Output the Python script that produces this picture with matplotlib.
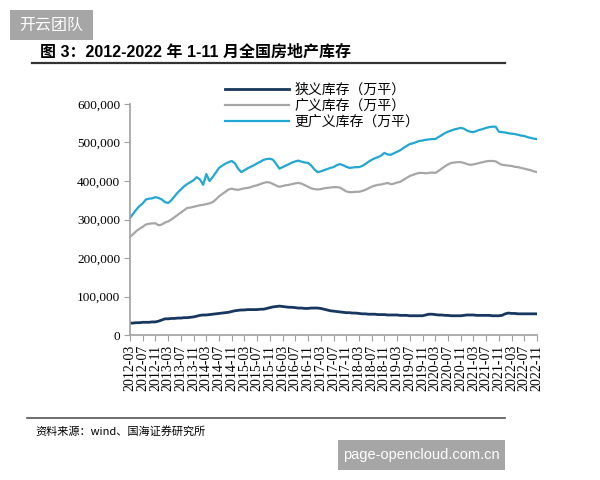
import matplotlib
matplotlib.use("Agg")
import matplotlib.pyplot as plt
from matplotlib.patches import Rectangle
from matplotlib.lines import Line2D
from matplotlib.ticker import FuncFormatter
import pandas as pd

plt.rcParams['font.family'] = ['Liberation Serif', 'Noto Sans CJK SC']

# monthly categories 2012-03 .. 2022-11
months = [str(p) for p in pd.period_range("2012-03", "2022-11", freq="M")]

# 狭义库存 (万平)
narrow = [31, 31, 32, 32, 33, 33, 33, 34, 34, 36, 39, 42,
          42, 43, 43, 44, 44, 45, 45, 46, 47, 49, 51, 52,
          52, 53, 54, 55, 56, 57, 58, 59, 61, 63, 64, 65,
          65, 66, 66, 66, 66, 67, 67, 69, 71, 73, 74, 75,
          74, 73, 72, 72, 71, 70, 70, 69, 69, 70, 70, 70,
          69, 67, 65, 63, 62, 61, 60, 59, 58, 58, 57, 57,
          56, 55, 55, 54, 54, 54, 53, 53, 53, 52, 52, 52,
          52, 51, 51, 51, 50, 50, 50, 50, 50, 52, 54, 54,
          53, 52, 52, 51, 51, 50, 50, 50, 50, 51, 52, 52,
          52, 51, 51, 51, 51, 51, 50, 50, 50, 51, 55, 57,
          56, 56, 55, 55, 55, 55, 55, 55, 55]

# 广义库存 (万平)
broad = [255, 262, 270, 276, 281, 287, 289, 290, 290, 285, 287, 292,
         295, 300, 306, 312, 318, 324, 330, 331, 333, 335, 337, 338,
         340, 342, 345, 352, 360, 366, 372, 378, 380, 378, 377, 379,
         381, 382, 384, 387, 389, 392, 395, 397, 396, 392, 388, 385,
         387, 389, 390, 392, 394, 395, 393, 389, 385, 381, 379, 378,
         379, 381, 382, 383, 384, 384, 383, 378, 373, 371, 371, 372,
         372, 374, 377, 381, 385, 388, 390, 391, 393, 395, 392, 393,
         396, 398, 403, 408, 413, 416, 419, 421, 421, 420, 421, 422,
         421, 426, 432, 438, 443, 447, 448, 449, 449, 447, 444, 442,
         443, 445, 447, 449, 451, 452, 452, 451, 446, 442, 441, 440,
         439, 437, 436, 434, 432, 430, 428, 425, 423]

# 更广义库存 (万平)
broader = [304, 315, 326, 335, 342, 352, 354, 355, 358, 356, 352, 345,
           343, 350, 360, 370, 378, 386, 392, 397, 402, 410, 404, 390,
           418, 400, 410, 422, 434, 440, 445, 449, 452, 446, 432, 423,
           428, 433, 437, 441, 446, 450, 455, 457, 458, 455, 444, 432,
           436, 440, 444, 448, 451, 453, 450, 448, 447, 440, 430, 423,
           425, 428, 431, 434, 436, 441, 444, 441, 437, 434, 435, 436,
           436, 439, 444, 450, 455, 459, 462, 466, 473, 469, 468, 472,
           476, 480, 486, 491, 496, 498, 501, 504, 505, 507, 508, 509,
           509, 514, 519, 524, 528, 531, 534, 536, 538, 536, 531, 528,
           527, 530, 533, 535, 538, 540, 541, 541, 528, 527, 526, 524,
           523, 522, 520, 518, 517, 514, 512, 510, 509]

series_names = ["狭义库存（万平）", "广义库存（万平）", "更广义库存（万平）"]
colors = ["#17375e", "#a6a6a6", "#22a7d2"]
widths = [2.0, 1.6, 1.6]

fig = plt.figure(figsize=(6, 4.8), dpi=100)
ax = fig.add_axes([130 / 600, 1 - 335 / 480, 407 / 600, 231 / 480])

x = list(range(len(months)))
for vals, name, c, w in zip([narrow, broad, broader], series_names, colors, widths):
    ax.plot(x, [v * 1000 for v in vals], color=c, lw=w, label=name)

ax.set_xlim(0, len(months) - 1)
ax.set_ylim(0, 600000)
ax.set_yticks(range(0, 600001, 100000))
ax.yaxis.set_major_formatter(FuncFormatter(lambda v, p: f"{int(v):,}"))
ax.set_xticks(x[::4])
ax.set_xticklabels(months[::4], rotation=90, fontsize=10)
ax.tick_params(axis='y', labelsize=9.5, length=4, color="#a0a0a0", pad=3)
ax.tick_params(axis='x', length=4, color="#a0a0a0", pad=3)
for s in ["top", "right"]:
    ax.spines[s].set_visible(False)
for s in ["left", "bottom"]:
    ax.spines[s].set_color("#a0a0a0")
    ax.spines[s].set_linewidth(1.2)

fig.legend(loc="upper left", bbox_to_anchor=(218 / 600, 1 - 76 / 480),
           frameon=False, handlelength=4.6, borderpad=0, labelspacing=0.15,
           handletextpad=0.4, prop={'family': 'Noto Sans CJK SC', 'size': 10})

# title and rules
fig.text(40 / 600, 1 - 52 / 480, "图 3：2012-2022 年 1-11 月全国房地产库存",
         fontsize=11.5, fontweight="bold", family=["Liberation Sans", "Noto Sans CJK SC"],
         va="center", ha="left")
fig.add_artist(Line2D([32 / 600, 505 / 600], [1 - 63 / 480, 1 - 63 / 480],
                      color="#333333", lw=1.6))
fig.add_artist(Line2D([27 / 600, 505 / 600], [1 - 418 / 480, 1 - 418 / 480],
                      color="#555555", lw=1.2))
fig.text(35 / 600, 1 - 431 / 480, "资料来源：wind、国海证券研究所", fontsize=8,
         family=["Noto Sans CJK SC", "DejaVu Sans"], va="center", ha="left")

# watermarks
fig.add_artist(Rectangle((10 / 600, 1 - 40 / 480), 83 / 600, 30 / 480,
                         transform=fig.transFigure, color="#a6a6a6", lw=0))
fig.text(51.5 / 600, 1 - 25 / 480, "开云团队", fontsize=11.5, color="white",
         family="Noto Sans CJK SC", va="center", ha="center")
fig.add_artist(Rectangle((338 / 600, 1 - 470 / 480), 167 / 600, 30 / 480,
                         transform=fig.transFigure, color="#a6a6a6", lw=0))
fig.text(421.5 / 600, 1 - 455 / 480, "page-opencloud.com.cn", fontsize=10.5,
         color="white", family="Liberation Sans", va="center", ha="center")

fig.savefig("out.png", dpi=100)
